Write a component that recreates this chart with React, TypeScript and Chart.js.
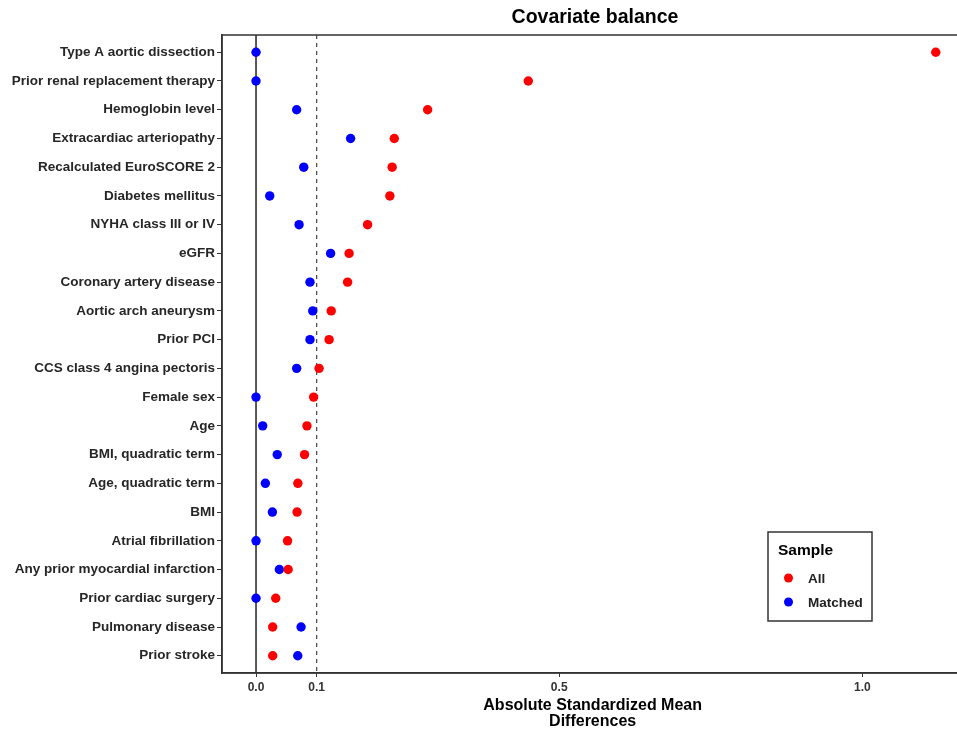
import React, { useEffect, useRef } from "react";
import { Chart, registerables } from "chart.js";

Chart.register(...registerables);

const covariates = [
  "Type A aortic dissection",
  "Prior renal replacement therapy",
  "Hemoglobin level",
  "Extracardiac arteriopathy",
  "Recalculated EuroSCORE 2",
  "Diabetes mellitus",
  "NYHA class III or IV",
  "eGFR",
  "Coronary artery disease",
  "Aortic arch aneurysm",
  "Prior PCI",
  "CCS class 4 angina pectoris",
  "Female sex",
  "Age",
  "BMI, quadratic term",
  "Age, quadratic term",
  "BMI",
  "Atrial fibrillation",
  "Any prior myocardial infarction",
  "Prior cardiac surgery",
  "Pulmonary disease",
  "Prior stroke",
];

const allValues = [
  1.121, 0.449, 0.283, 0.228, 0.2245, 0.2207, 0.184, 0.1535, 0.151, 0.124, 0.1205,
  0.104, 0.095, 0.084, 0.08, 0.069, 0.0677, 0.052, 0.053, 0.0325, 0.0275, 0.0275,
];

const matchedValues = [
  0.0, 0.0, 0.067, 0.156, 0.0787, 0.0226, 0.071, 0.123, 0.089, 0.0936, 0.089,
  0.067, 0.0, 0.011, 0.035, 0.0154, 0.027, 0.0, 0.0385, 0.0, 0.0743, 0.0688,
];

const xTicks = [0, 0.1, 0.5, 1.0];
const solidRef = 0;
const dashedRef = 0.1;

const seriesNames = ["All", "Matched"];
const seriesColors = ["#FF0000", "#0000FF"];

const FONT = "'Liberation Sans', Arial, sans-serif";

export default function App() {
  const canvasRef = useRef<HTMLCanvasElement | null>(null);

  useEffect(() => {
    const canvas = canvasRef.current;
    if (!canvas) return;

    const decor = {
      id: "decor",
      beforeDatasetsDraw(chart: any) {
        const { ctx, chartArea } = chart;
        const xs = chart.scales.x;
        ctx.save();
        let px = xs.getPixelForValue(solidRef);
        ctx.strokeStyle = "#000";
        ctx.lineWidth = 1.3;
        ctx.setLineDash([]);
        ctx.beginPath();
        ctx.moveTo(px, chartArea.top);
        ctx.lineTo(px, chartArea.bottom);
        ctx.stroke();
        px = xs.getPixelForValue(dashedRef);
        ctx.strokeStyle = "#444";
        ctx.lineWidth = 1.2;
        ctx.setLineDash([4, 4]);
        ctx.beginPath();
        ctx.moveTo(px, chartArea.top);
        ctx.lineTo(px, chartArea.bottom);
        ctx.stroke();
        ctx.restore();
      },
      afterDraw(chart: any) {
        const { ctx, chartArea } = chart;
        ctx.save();
        ctx.strokeStyle = "#333";
        ctx.lineWidth = 1.5;
        ctx.setLineDash([]);
        ctx.strokeRect(chartArea.left, chartArea.top, 968 - chartArea.left, chartArea.bottom - chartArea.top);
        ctx.fillStyle = "#000";
        ctx.font = `bold 19.5px ${FONT}`;
        ctx.textAlign = "center";
        ctx.textBaseline = "middle";
        ctx.fillText("Covariate balance", 595, 18);
        const lx = 768, ly = 532, lw = 104, lh = 89;
        ctx.fillStyle = "#fff";
        ctx.fillRect(lx, ly, lw, lh);
        ctx.strokeStyle = "#333";
        ctx.lineWidth = 1.5;
        ctx.strokeRect(lx, ly, lw, lh);
        ctx.fillStyle = "#000";
        ctx.textAlign = "left";
        ctx.font = `bold 15.5px ${FONT}`;
        ctx.fillText("Sample", 778, 551);
        ctx.font = `bold 13.5px ${FONT}`;
        seriesNames.forEach((name, i) => {
          const cy = 578 + i * 24;
          ctx.fillStyle = seriesColors[i];
          ctx.beginPath();
          ctx.arc(788.5, cy, 4.5, 0, Math.PI * 2);
          ctx.fill();
          ctx.fillStyle = "#222";
          ctx.fillText(name, 808, cy + 1);
        });
        ctx.restore();
      },
    };

    const chart = new Chart(canvas, {
      type: "scatter",
      data: {
        datasets: [
          {
            label: seriesNames[0],
            data: allValues.map((v, i) => ({ x: v, y: i })),
            backgroundColor: seriesColors[0],
            borderWidth: 0,
            pointRadius: 4.7,
          },
          {
            label: seriesNames[1],
            data: matchedValues.map((v, i) => ({ x: v, y: i })),
            backgroundColor: seriesColors[1],
            borderWidth: 0,
            pointRadius: 4.7,
          },
        ],
      },
      options: {
        responsive: false,
        animation: false,
        devicePixelRatio: 1,
        layout: { padding: { top: 35, left: 0, right: 0, bottom: 0 } },
        plugins: {
          legend: { display: false },
          tooltip: { enabled: false },
          title: { display: false },
        },
        scales: {
          x: {
            type: "linear",
            min: -0.0561,
            max: 1.1664,
            afterBuildTicks: (scale: any) => {
              scale.ticks = xTicks.map((v) => ({ value: v }));
            },
            afterFit: (scale: any) => {
              scale.height = 58;
            },
            ticks: {
              autoSkip: false,
              maxRotation: 0,
              padding: 3,
              color: "#333",
              font: { family: FONT, size: 12, weight: "bold" },
              callback: (v: any) => Number(v).toFixed(1),
            },
            grid: { drawOnChartArea: false, drawTicks: true, tickLength: 4, color: "#333" },
            border: { display: true, color: "#333", width: 1.5 },
            title: {
              display: true,
              text: ["Absolute Standardized Mean", "Differences"],
              color: "#000",
              font: { family: FONT, size: 16, weight: "bold", lineHeight: 1.0 },
              padding: { top: 0, bottom: 1 },
            },
          },
          y: {
            type: "linear",
            reverse: true,
            min: -0.6,
            max: covariates.length - 1 + 0.6,
            afterBuildTicks: (scale: any) => {
              scale.ticks = covariates.map((_, i) => ({ value: i }));
            },
            afterFit: (scale: any) => {
              scale.width = 222;
            },
            ticks: {
              autoSkip: false,
              padding: 2,
              color: "#262626",
              font: { family: FONT, size: 13.5, weight: "bold" },
              callback: (v: any) => covariates[Number(v)] ?? "",
            },
            grid: { drawOnChartArea: false, drawTicks: true, tickLength: 5, color: "#333" },
            border: { display: true, color: "#333", width: 1.5 },
          },
        },
      },
      plugins: [decor],
    } as any);

    return () => chart.destroy();
  }, []);

  return (
    <div
      style={{
        position: "fixed",
        left: 0,
        top: 0,
        width: 957,
        height: 731,
        overflow: "hidden",
        background: "#fff",
      }}
    >
      <canvas ref={canvasRef} width={968} height={731} style={{ display: "block" }} />
    </div>
  );
}
